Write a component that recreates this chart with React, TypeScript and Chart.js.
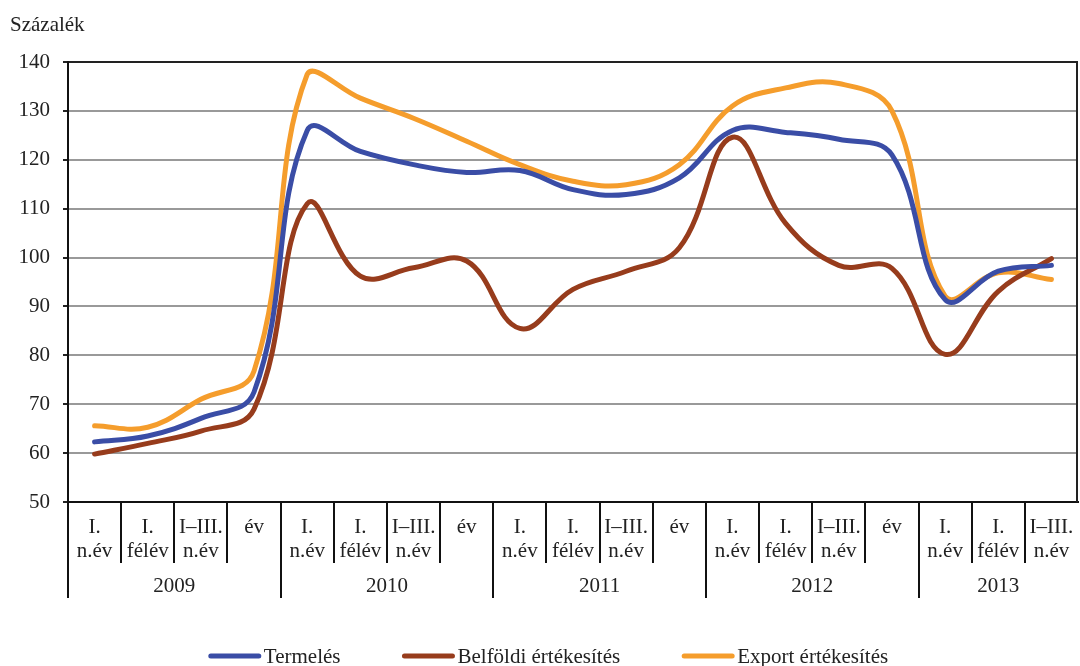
import React, { useEffect, useRef } from "react";
import { Chart, registerables } from "chart.js";

Chart.register(...registerables);

const subLabels: string[][] = [
  ["I.", "n.év"], ["I.", "félév"], ["I–III.", "n.év"], ["év"],
  ["I.", "n.év"], ["I.", "félév"], ["I–III.", "n.év"], ["év"],
  ["I.", "n.év"], ["I.", "félév"], ["I–III.", "n.év"], ["év"],
  ["I.", "n.év"], ["I.", "félév"], ["I–III.", "n.év"], ["év"],
  ["I.", "n.év"], ["I.", "félév"], ["I–III.", "n.év"],
];
const years = ["2009", "2010", "2011", "2012", "2013"];
const yearCounts = [4, 4, 4, 4, 3];

const termeles = [62.3, 63.5, 67.1, 72.5, 126.0, 121.7, 119.0, 117.4, 117.8, 113.9, 112.9, 116.3, 126.0, 125.6, 124.2, 121.0, 91.4, 97.2, 98.4];
const belfoldi = [59.8, 62.0, 64.5, 69.0, 111.0, 96.2, 97.9, 99.3, 85.5, 93.5, 97.2, 102.0, 124.6, 107.0, 98.4, 97.8, 80.2, 93.1, 99.8];
const exportErt = [65.6, 65.3, 71.0, 76.8, 137.5, 132.6, 128.5, 123.8, 119.0, 115.6, 114.9, 119.0, 131.0, 134.7, 135.6, 130.0, 92.1, 96.9, 95.5];

const seriesNames = ["Termelés", "Belföldi értékesítés", "Export értékesítés"];
const seriesColors = ["#3A4DA6", "#973C1C", "#F59D2C"];

const FONT = "'Liberation Serif', 'Times New Roman', serif";

const extrasPlugin = {
  id: "extras",
  afterDraw(chart: any) {
    const ctx = chart.ctx as CanvasRenderingContext2D;
    const area = chart.chartArea;
    const x = chart.scales.x;
    const n = subLabels.length;
    const half = (x.getPixelForValue(1) - x.getPixelForValue(0)) / 2;
    ctx.save();
    // right border
    ctx.strokeStyle = "#222";
    ctx.lineWidth = 2;
    ctx.beginPath();
    ctx.moveTo(area.right - 1, area.top);
    ctx.lineTo(area.right - 1, area.bottom);
    ctx.stroke();
    // separators
    ctx.strokeStyle = "#111";
    ctx.lineWidth = 2;
    const boundaries = new Set<number>();
    let acc = 0;
    for (const c of yearCounts) {
      boundaries.add(acc);
      acc += c;
    }
    for (let i = 0; i < n; i++) {
      const px = Math.round(x.getPixelForValue(i) - half);
      const long = boundaries.has(i);
      ctx.beginPath();
      ctx.moveTo(px, area.bottom);
      ctx.lineTo(px, area.bottom + (long ? 96 : 61));
      ctx.stroke();
    }
    // year labels
    ctx.fillStyle = "#222";
    ctx.font = `21px ${FONT}`;
    ctx.textAlign = "center";
    ctx.textBaseline = "alphabetic";
    let start = 0;
    years.forEach((y, k) => {
      const c = yearCounts[k];
      const l = x.getPixelForValue(start) - half;
      const r = x.getPixelForValue(start + c - 1) + half;
      ctx.fillText(y, (l + r) / 2, area.bottom + 90);
      start += c;
    });
    // axis title
    ctx.textAlign = "left";
    ctx.fillText("Százalék", 10, 31);
    // legend
    ctx.font = `21px ${FONT}`;
    const lineW = 54;
    const gapText = 2;
    const gapItem = 61;
    const widths = seriesNames.map((s) => lineW + gapText + ctx.measureText(s).width);
    const total = widths.reduce((a, b) => a + b, 0) + gapItem * (widths.length - 1);
    let lx = 548 - total / 2;
    const ly = 656;
    seriesNames.forEach((s, k) => {
      ctx.strokeStyle = seriesColors[k];
      ctx.lineWidth = 5;
      ctx.lineCap = "round";
      ctx.beginPath();
      ctx.moveTo(lx + 3, ly);
      ctx.lineTo(lx + lineW - 3, ly);
      ctx.stroke();
      ctx.fillStyle = "#222";
      ctx.textAlign = "left";
      ctx.textBaseline = "alphabetic";
      ctx.fillText(s, lx + lineW + gapText, ly + 7);
      lx += widths[k] + gapItem;
    });
    ctx.restore();
  },
};

export default function App() {
  const ref = useRef<HTMLCanvasElement>(null);
  useEffect(() => {
    if (!ref.current) return;
    const data = [termeles, belfoldi, exportErt];
    const chart = new Chart(ref.current, {
      type: "line",
      data: {
        labels: subLabels,
        datasets: seriesNames.map((name, k) => ({
          label: name,
          data: data[k],
          borderColor: seriesColors[k],
          backgroundColor: seriesColors[k],
          borderWidth: 5,
          pointRadius: 0,
          tension: 0.4,
          fill: false,
          borderCapStyle: "round" as const,
        })),
      },
      options: {
        animation: false,
        responsive: false,
        maintainAspectRatio: false,
        layout: { padding: { top: 62, right: 2, left: 0, bottom: 0 } },
        plugins: {
          legend: { display: false },
          tooltip: { enabled: false },
          title: { display: false },
        },
        scales: {
          x: {
            type: "category",
            offset: true,
            grid: { display: false, drawTicks: false },
            border: { display: true, color: "#111", width: 2 },
            ticks: {
              color: "#222",
              font: { family: FONT, size: 21, lineHeight: 1.15 },
              padding: 13,
              maxRotation: 0,
              minRotation: 0,
              autoSkip: false,
            },
            afterFit(scale: any) {
              scale.height = 164;
              scale.paddingLeft = 0;
              scale.paddingRight = 0;
            },
          },
          y: {
            min: 50,
            max: 140,
            ticks: {
              stepSize: 10,
              color: "#222",
              font: { family: FONT, size: 21 },
              padding: 13,
            },
            grid: {
              color: (c: any) => (c.tick && c.tick.value === 140 ? "#222" : "#999"),
              lineWidth: 2,
              tickLength: 5,
              tickColor: "#222",
              drawTicks: true,
            },
            border: { display: true, color: "#111", width: 2 },
            afterFit(scale: any) {
              scale.width = 68;
            },
          },
        },
      },
      plugins: [extrasPlugin],
    });
    return () => chart.destroy();
  }, []);
  return (
    <div style={{ position: "fixed", left: 0, top: 0, width: 1080, height: 666, background: "#fff" }}>
      <canvas ref={ref} width={1080} height={666} style={{ width: 1080, height: 666 }} />
    </div>
  );
}
